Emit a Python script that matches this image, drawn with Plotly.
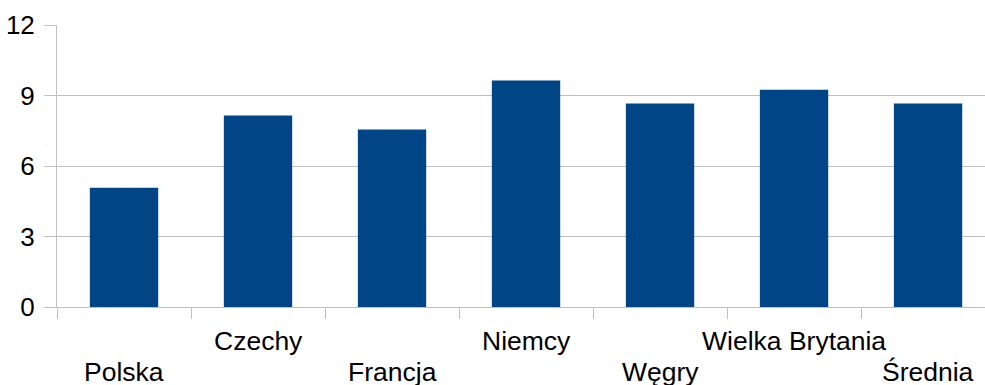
import plotly.graph_objects as go

categories = ["Polska", "Czechy", "Francja", "Niemcy", "Węgry", "Wielka Brytania", "Średnia"]
values = [5.07, 8.15, 7.55, 9.64, 8.66, 9.25, 8.66]
y_ticks = [0, 3, 6, 9, 12]

BAR = "#004586"
GRID = "#c0c0c0"
FONT = "Liberation Sans, Arial, sans-serif"

fig = go.Figure()
fig.add_trace(go.Bar(x=categories, y=values, marker_color=BAR, width=0.51,
                     marker_line_width=0))

annotations = []
for i, c in enumerate(categories):
    annotations.append(dict(
        x=c, xref="x", y=0, yref="paper", text=c, showarrow=False,
        xanchor="center", yanchor="top",
        yshift=-17 if i % 2 == 1 else -48,
        font=dict(family=FONT, size=26.5, color="#000000"),
    ))

fig.update_layout(
    width=985, height=385,
    margin=dict(l=57, r=0, t=25, b=78),
    paper_bgcolor="white", plot_bgcolor="white",
    showlegend=False,
    font=dict(family=FONT, size=26, color="#000000"),
    annotations=annotations,
    xaxis=dict(
        type="category", range=[-0.5, 6.425],
        showgrid=False, showline=True, linecolor=GRID, linewidth=1,
        ticks="outside", tickson="boundaries", ticklen=11, tickcolor=GRID,
        tickwidth=1, showticklabels=False, zeroline=False,
    ),
    yaxis=dict(
        range=[0, 12], tickvals=y_ticks, ticktext=[str(v) for v in y_ticks],
        showgrid=True, gridcolor=GRID, gridwidth=1,
        showline=True, linecolor=GRID, linewidth=1,
        ticks="outside", ticklen=12, tickcolor=GRID, tickwidth=1,
        ticklabelstandoff=4, zeroline=False,
        tickfont=dict(family=FONT, size=26, color="#000000"),
    ),
)

fig.write_html("out.html")
